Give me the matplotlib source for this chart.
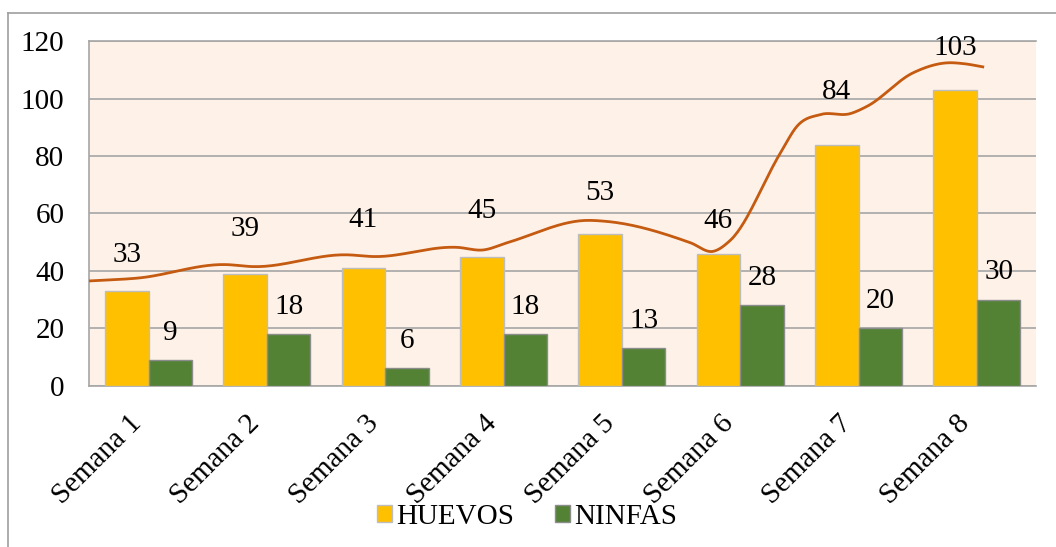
import numpy as np
import matplotlib.pyplot as plt
import matplotlib.transforms as mtransforms
from matplotlib.lines import Line2D

semanas = ['Semana 1', 'Semana 2', 'Semana 3', 'Semana 4',
           'Semana 5', 'Semana 6', 'Semana 7', 'Semana 8']
huevos = [33, 39, 41, 45, 53, 46, 84, 103]
ninfas = [9, 18, 6, 18, 13, 28, 20, 30]

# hand-drawn trend curve (category units, value units)
trend_x = [-0.5, -0.09, 0.65, 0.88, 1.68, 1.9, 2.61, 2.83, 3.03, 3.71,
           3.88, 4.58, 4.77, 4.92, 5.34, 5.48, 5.68, 5.93, 6.07, 6.46, 6.75,
           6.89, 7.05]
trend_y = [36.5, 37.5, 42.2, 41.5, 45.6, 45.0, 48.2, 47.3, 49.8, 57.6,
           57.2, 49.8, 46.8, 50.8, 81.1, 90.4, 94.5, 94.8, 97.3, 109.0, 112.5,
           112.2, 111.1]

# label heights above the egg bars (manually placed in the original)
huevos_dy = [12.6, 15.7, 16.7, 15.7, 14.3, 11.5, 18.5, 14.7]
ninfas_dy = 9.5


def smooth(xs, ys, n=30):
    # cubic hermite with centred-difference slopes
    xs = np.asarray(xs, float)
    ys = np.asarray(ys, float)
    m = np.gradient(ys, xs)
    ox, oy = [], []
    for i in range(len(xs) - 1):
        h = xs[i + 1] - xs[i]
        t = np.linspace(0, 1, n, endpoint=False)
        h00 = 2 * t ** 3 - 3 * t ** 2 + 1
        h10 = t ** 3 - 2 * t ** 2 + t
        h01 = -2 * t ** 3 + 3 * t ** 2
        h11 = t ** 3 - t ** 2
        ox.append(xs[i] + t * h)
        oy.append(h00 * ys[i] + h10 * h * m[i] + h01 * ys[i + 1] + h11 * h * m[i + 1])
    ox.append([xs[-1]])
    oy.append([ys[-1]])
    return np.concatenate(ox), np.concatenate(oy)


def main():
    plt.rcParams['font.family'] = ['Liberation Serif', 'DejaVu Serif']
    fs = 21
    fig = plt.figure(figsize=(10.56, 5.47), dpi=100)
    ax = fig.add_axes([0.0846, 0.2949, 0.8965, 0.6296])

    x = np.arange(len(semanas))
    w = 0.368
    ax.bar(x - w, huevos, w, align='edge', color='#FFC000', edgecolor='#BDBDBD',
           linewidth=1.0, label='HUEVOS', zorder=3)
    ax.bar(x, ninfas, w, align='edge', color='#548235', edgecolor='#8C8C8C',
           linewidth=1.0, label='NINFAS', zorder=3)

    for i in range(len(semanas)):
        ax.text(x[i] - w / 2, huevos[i] + huevos_dy[i], str(huevos[i]),
                ha='center', va='center', fontsize=fs, zorder=5)
        ax.text(x[i] + w / 2, ninfas[i] + ninfas_dy, str(ninfas[i]),
                ha='center', va='center', fontsize=fs, zorder=5)

    sx, sy = smooth(trend_x, trend_y)
    ax.plot(sx, sy, color='#C55A11', linewidth=2.0, zorder=4)

    ax.set_facecolor('#FEF2E8')
    ax.set_xlim(-0.5, 7.5)
    ax.set_ylim(0, 120)
    ax.set_yticks(range(0, 121, 20))
    ax.yaxis.grid(True, color='#A6A6A6', linewidth=1.2, zorder=1)
    ax.set_axisbelow(True)
    ax.tick_params(axis='y', length=0, labelsize=fs, pad=18)
    ax.set_xticks(x)
    ax.set_xticklabels(semanas, rotation=45, ha='right', va='top',
                       rotation_mode='anchor', fontsize=fs)
    ax.tick_params(axis='x', length=0, pad=18)
    shift = mtransforms.ScaledTranslation(-0.2, 0, fig.dpi_scale_trans)
    for lab in ax.get_xticklabels():
        lab.set_transform(lab.get_transform() + shift)
    ax.spines['right'].set_visible(False)
    for s in ['top', 'left', 'bottom']:
        ax.spines[s].set_color('#A6A6A6')
        ax.spines[s].set_linewidth(1.2)

    ax.legend(loc='center', bbox_to_anchor=(527 / 1056, 1 - 517 / 547),
              bbox_transform=fig.transFigure, ncol=2, frameon=False,
              fontsize=fs, handlelength=0.5, handleheight=0.5,
              handletextpad=0.15, columnspacing=1.4)

    # outer chart border (only top and left visible in the crop)
    fig.add_artist(Line2D([8 / 1056, 1], [1 - 13 / 547, 1 - 13 / 547],
                          transform=fig.transFigure, color='#9E9E9E', linewidth=1.2))
    fig.add_artist(Line2D([8 / 1056, 8 / 1056], [0, 1 - 13 / 547],
                          transform=fig.transFigure, color='#9E9E9E', linewidth=1.2))

    fig.savefig('out.png', dpi=100)


if __name__ == '__main__':
    main()
